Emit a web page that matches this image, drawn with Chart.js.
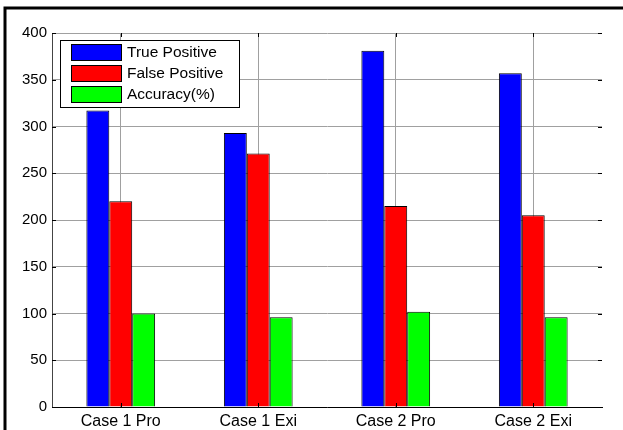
<!DOCTYPE html>
<html>
<head>
<meta charset="utf-8">
<script src="https://cdn.jsdelivr.net/npm/chart.js@4.4.1/dist/chart.umd.min.js"></script>
<style>
    html, body { margin: 0; padding: 0; background: #fff; }
    #wrap { position: relative; width: 623px; height: 430px; }
</style>
</head>
<body>
<div id="wrap"><canvas id="grafica" width="623" height="430"></canvas></div>
<script>
// datos
const categorias = ['Case 1 Pro', 'Case 1 Exi', 'Case 2 Pro', 'Case 2 Exi'];
const verdaderosPositivos = [317, 293, 381, 357];
const falsosPositivos = [220, 271, 215, 205];
const precision = [100, 96, 102, 96];
const ticksY = [0, 50, 100, 150, 200, 250, 300, 350, 400];

const FUENTE = '"Liberation Sans", Arial, sans-serif';

// marco de la figura + ticks interiores estilo MATLAB
const marcoPlugin = {
    id: 'marco',
    afterDraw(chart) {
        const ctx = chart.ctx;
        const a = chart.chartArea;
        const x = chart.scales.x;
        const y = chart.scales.y;
        ctx.save();
        ctx.strokeStyle = '#000';
        ctx.lineWidth = 3;
        ctx.beginPath();
        ctx.moveTo(5, 430);
        ctx.lineTo(5, 8);
        ctx.lineTo(623, 8);
        ctx.stroke();

        ctx.lineWidth = 1;
        ctx.beginPath();
        ticksY.forEach(v => {
            const py = Math.round(y.getPixelForValue(v)) + 0.5;
            ctx.moveTo(a.left, py); ctx.lineTo(a.left + 4, py);
            ctx.moveTo(a.right, py); ctx.lineTo(a.right - 4, py);
        });
        categorias.forEach((c, i) => {
            const px = Math.round(x.getPixelForValue(i)) + 0.5;
            ctx.moveTo(px, a.top); ctx.lineTo(px, a.top + 4);
            ctx.moveTo(px, a.bottom); ctx.lineTo(px, a.bottom - 4);
        });
        ctx.stroke();

        // leyenda dentro del area
        const lx = 60, ly = 40, lw = 179, lh = 67;
        ctx.fillStyle = '#fff';
        ctx.fillRect(lx, ly, lw, lh);
        ctx.strokeStyle = '#000';
        ctx.strokeRect(lx + 0.5, ly + 0.5, lw, lh);
        ctx.font = '15.5px ' + FUENTE;
        ctx.textBaseline = 'middle';
        chart.data.datasets.forEach((ds, i) => {
            const ry = 44 + i * 21;
            ctx.fillStyle = ds.backgroundColor;
            ctx.fillRect(71, ry, 50, 16);
            ctx.strokeRect(71.5, ry + 0.5, 50, 16);
            ctx.fillStyle = '#000';
            ctx.fillText(ds.label, 127, ry + 9);
        });
        ctx.restore();
    }
};

new Chart(document.getElementById('grafica'), {
    type: 'bar',
    data: {
        labels: categorias,
        datasets: [
            {
                label: 'True Positive',
                data: verdaderosPositivos,
                backgroundColor: '#0000ff',
                borderColor: '#000',
                borderWidth: 1
            },
            {
                label: 'False Positive',
                data: falsosPositivos,
                backgroundColor: '#ff0000',
                borderColor: '#000',
                borderWidth: 1
            },
            {
                label: 'Accuracy(%)',
                data: precision,
                backgroundColor: '#00ff00',
                borderColor: '#000',
                borderWidth: 1
            }
        ]
    },
    options: {
        responsive: false,
        animation: false,
        events: [],
        categoryPercentage: 0.5,
        barPercentage: 1.0,
        layout: {
            padding: { left: 0, right: 21, top: 33, bottom: 0 }
        },
        plugins: {
            legend: { display: false },
            tooltip: { enabled: false }
        },
        scales: {
            x: {
                grid: {
                    offset: false,
                    color: '#a0a0a0',
                    lineWidth: 1,
                    drawTicks: false
                },
                border: { color: '#000', width: 1 },
                ticks: {
                    color: '#000',
                    padding: 5,
                    font: { family: FUENTE, size: 16 }
                },
                afterFit(scale) { scale.height = 23; }
            },
            y: {
                min: 0,
                max: 400,
                afterBuildTicks(scale) {
                    scale.ticks = ticksY.map(v => ({ value: v }));
                },
                grid: {
                    color: '#a0a0a0',
                    lineWidth: 1,
                    drawTicks: false
                },
                border: { color: '#444', width: 1 },
                ticks: {
                    color: '#000',
                    padding: 5,
                    font: { family: FUENTE, size: 15 }
                },
                afterFit(scale) { scale.width = 52; }
            }
        }
    },
    plugins: [marcoPlugin]
});
</script>
</body>
</html>
